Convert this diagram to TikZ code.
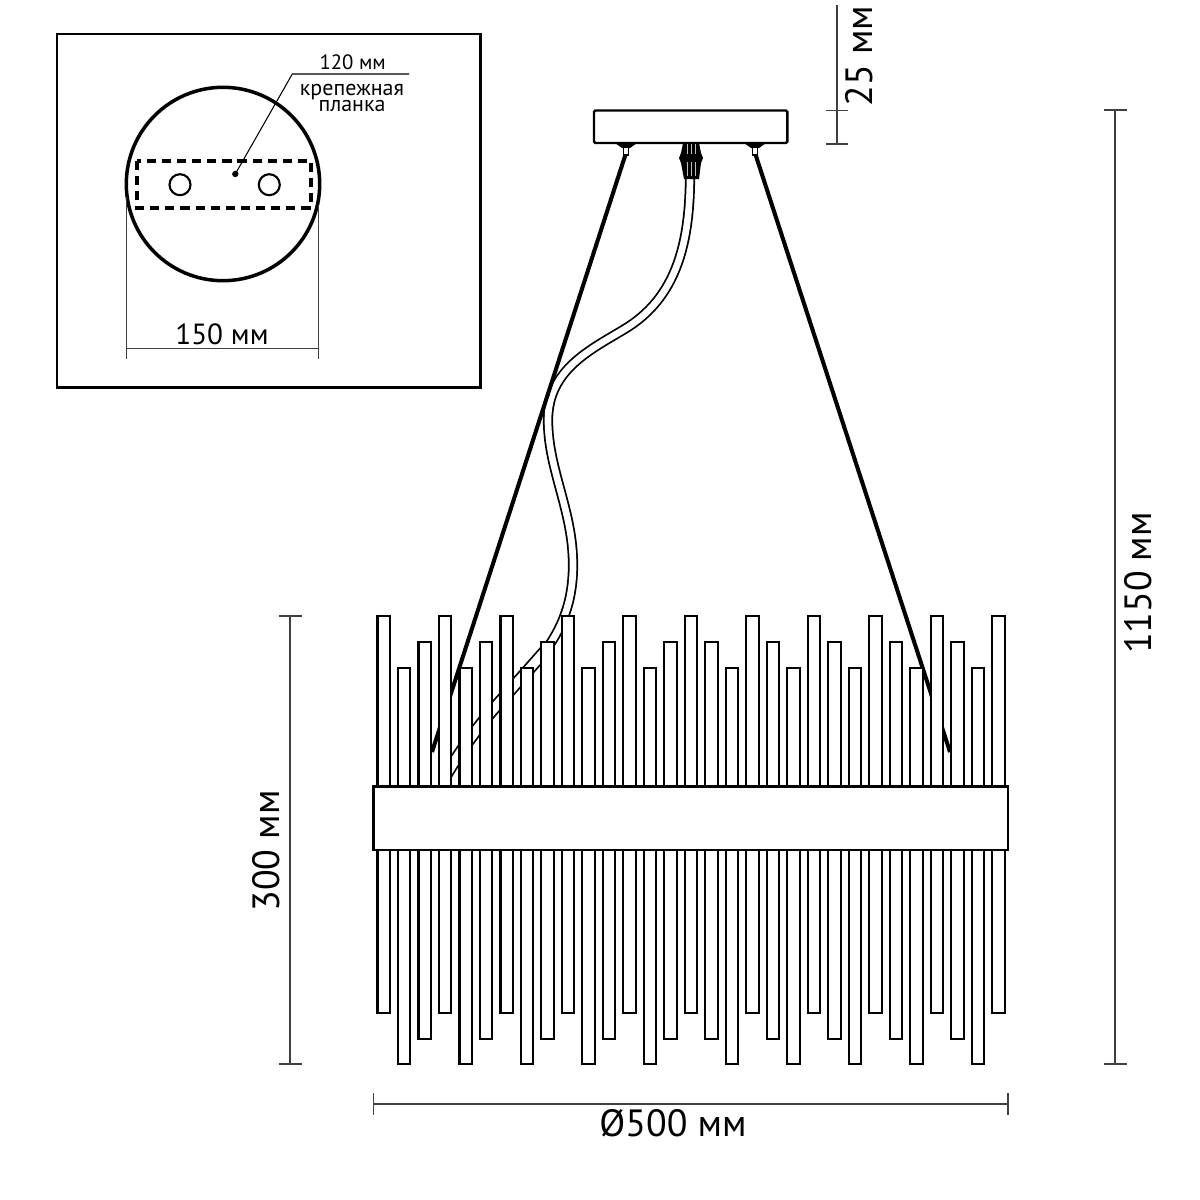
\documentclass[tikz,border=0pt]{standalone}
\usepackage{fontspec}
\setmainfont{PT Sans}

\begin{document}
\begin{tikzpicture}[
		x=0.01cm, y=-0.01cm,
		rod/.style={draw, line width=0.6pt, fill=white},
		body/.style={draw, line width=0.7pt, fill=white},
		wire/.style={line width=1.15pt},
		cable/.style={double=white, double distance=1.9pt, line width=0.5pt},
		dim line/.style={black!75, line width=0.3pt},
		dim label/.style={inner sep=0pt, font=\fontsize{10.8pt}{11pt}\selectfont},
		small label/.style={inner sep=0pt, font=\fontsize{6.25pt}{4.3pt}\selectfont, align=center},
	]
	\useasboundingbox (0,0) rectangle (1200,1200);

	% cable, wires
	\coordinate (cable split) at (546,650);
	\draw[cable] (690,175) .. controls (690,240) and (678,298) .. (623,330)
		.. controls (590,350) and (548,370) .. (548,420)
		.. controls (548,470) and (573,510) .. (573,565)
		.. controls (573,605) and (560,630) .. (cable split);
	\draw[cable, double distance=2.6pt] (cable split) .. controls (530,668) and (515,685) .. (497,705)
		.. controls (475,730) and (458,755) .. (446,775);
	\coordinate (hook left) at (626,153);
	\coordinate (hook right) at (755,153);
	\coordinate (end left) at (432,752);
	\coordinate (end right) at (950,752);
	\draw[wire] (hook left) -- (end left);
	\draw[wire] (hook right) -- (end right);

	% rods, mirrored about the middle one
	\foreach \i in {0,...,30} {
		\pgfmathsetmacro{\rx}{383.7+\i*20.49}
		\pgfmathtruncatemacro{\rk}{mod(min(\i,30-\i),3)}
		\pgfmathsetmacro{\rtop}{{616,667.7,641.7}[\rk]}
		\pgfmathsetmacro{\rbot}{{1013,1064,1038.7}[\rk]}
		\draw[rod] (\rx-6.2,790) |- (\rx+6.2,\rtop) -- (\rx+6.2,790);
		\draw[rod] (\rx-6.2,848) |- (\rx+6.2,\rbot) -- (\rx+6.2,848);
	}
	\draw[body] (373.5,786.7) rectangle (1008,850);

	% canopy
	\draw[body, rounded corners=0.4pt] (594,110.5) rectangle (787.3,143);
	\foreach \cx in {626,755} {
		\fill (\cx-11,143) -- (\cx+11,143) -- (\cx+4,148) -- (\cx-4,148) -- cycle;
		\draw[line width=0.5pt, fill=white] (\cx-2.5,147) rectangle (\cx+2.5,155);
	}
	\fill (683,143) -- (699,143) -- (701,153) -- (703,158) -- (701,163) -- (699,179) -- (684,179) -- (681,163) -- (679,158) -- (681,153) -- cycle;
	\foreach \sx in {687,691,695} {
		\draw[white!75!black, line width=0.25pt] (\sx,144) -- (\sx,154) (\sx,162) -- (\sx,176);
	}

	% dimensions
	\draw[dim line] (837,5) -- (837,144) (826,110.5) -- (848,110.5) (826,144) -- (848,144);
	\node[dim label, rotate=90] (dim canopy) at (859,56) {25 мм};
	\draw[dim line] (1115,110) -- (1115,1064) (1104,110) -- (1127,110) (1104,1064) -- (1127,1064);
	\node[dim label, rotate=90] (dim height) at (1138,583) {1150 мм};
	\draw[dim line] (290,616) -- (290,1064) (279,616) -- (302,616) (279,1064) -- (302,1064);
	\node[dim label, rotate=90] (dim rods) at (266,851) {300 мм};
	\draw[dim line] (373.5,1104) -- (1008,1104) (373.5,1093) -- (373.5,1115) (1008,1093) -- (1008,1115);
	\node[dim label] (dim width) at (673,1123) {Ø500 мм};

	% inset
	\draw[line width=0.85pt] (57,34) rectangle (480.5,387);
	\draw[line width=1pt] (223,184) circle (96.7);
	\draw[line width=1.1pt, dash pattern=on 2.6pt off 1.7pt] (137.3,160.7) rectangle (310.7,208.3);
	\draw[line width=0.6pt] (180,184.7) circle (10.5) (269.3,184.7) circle (10.5);
	\fill (235.3,174) circle (3.2);
	\draw[line width=0.3pt] (235.3,174) -- (292.3,74) -- (409,74);
	\node[small label, font=\fontsize{5.9pt}{7pt}\selectfont] (bar size) at (352.7,62) {120 мм};
	\node[small label] (bar name) at (352,98) {крепежная\\[-1.1pt]планка};
	\draw[dim line] (126.3,197) -- (126.3,359) (318.7,205) -- (318.7,359) (126.3,348.7) -- (318.7,348.7);
	\node[dim label, font=\fontsize{8.3pt}{9pt}\selectfont] (dim base) at (222,334) {150 мм};
\end{tikzpicture}
\end{document}
